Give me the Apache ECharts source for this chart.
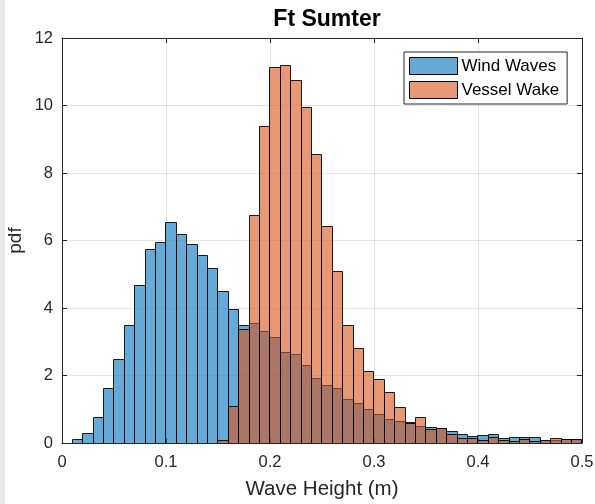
<!DOCTYPE html>
<html>
<head>
<meta charset="utf-8">
<script src="https://cdn.jsdelivr.net/npm/echarts@6/dist/echarts.min.js"></script>
<style>html,body{margin:0;padding:0;background:#fff;}#chart{width:595px;height:504px;}</style>
</head>
<body>
<div id="chart"></div>
<script>
// Histogram bins (shared edges)
const binStart = 0.0094;
const binWidth = 0.01;
// Wind Waves pdf per bin (k = 0..48)
const windWaves = [0.11, 0.29, 0.76, 1.62, 2.50, 3.49, 4.69, 5.74, 5.95, 6.54,
  6.18, 5.91, 5.57, 5.19, 4.49, 3.96, 3.51, 3.56, 3.31, 3.13,
  2.70, 2.63, 2.30, 1.92, 1.71, 1.62, 1.30, 1.20, 1.00, 0.87,
  0.71, 0.65, 0.62, 0.50, 0.46, 0.43, 0.37, 0.26, 0.22, 0.25,
  0.26, 0.16, 0.19, 0.18, 0.17, 0.10, 0.10, 0.11, 0.11];
// Vessel Wake pdf per bin (k = 0..48)
const vesselWake = [0, 0, 0, 0, 0, 0, 0, 0, 0, 0,
  0, 0, 0, 0, 0.09, 1.09, 3.39, 6.76, 9.39, 11.15,
  11.19, 10.76, 9.96, 8.55, 6.43, 5.09, 3.49, 2.82, 2.13, 1.89,
  1.50, 1.07, 0.58, 0.78, 0.41, 0.43, 0.26, 0.15, 0.15, 0.10,
  0.17, 0.08, 0.07, 0.11, 0.05, 0.08, 0.14, 0.11, 0.11];
const xTicks = [0, 0.1, 0.2, 0.3, 0.4, 0.5];
const yTicks = [0, 2, 4, 6, 8, 10, 12];
const seriesNames = ['Wind Waves', 'Vessel Wake'];
const fills = ['rgba(0,114,189,0.6)', 'rgba(217,83,25,0.6)'];
const swatches = ['#66aad7', '#e89875'];

function toBins(vals) {
  const out = [];
  vals.forEach((v, k) => {
    if (v > 0) out.push([binStart + k * binWidth, binStart + (k + 1) * binWidth, v]);
  });
  return out;
}

function makeRender(fill) {
  return function (params, api) {
    const p0 = api.coord([api.value(0), 0]);
    const p1 = api.coord([api.value(1), api.value(2)]);
    const x0 = Math.round(p0[0]) + 0.5, x1 = Math.round(p1[0]) + 0.5;
    const yb = Math.round(p0[1]) + 0.5, yt = Math.round(p1[1]) + 0.5;
    return {
      type: 'rect',
      shape: { x: x0, y: yt, width: x1 - x0, height: yb - yt },
      style: { fill: fill, stroke: 'rgba(0,0,0,0.88)', lineWidth: 1 }
    };
  };
}

const FONT = 'Liberation Sans, Arial, Helvetica, sans-serif';
const axisCol = '#262626';
const xMin = xTicks[0], xMax = xTicks[xTicks.length - 1];
const yMin = yTicks[0], yMax = yTicks[yTicks.length - 1];
const xInt = xTicks[1] - xTicks[0], yInt = yTicks[1] - yTicks[0];

const chart = echarts.init(document.getElementById('chart'), null, { renderer: 'canvas' });
const option = {
  animation: false,
  backgroundColor: '#fff',
  title: {
    text: 'Ft Sumter', left: 322, top: 3, textAlign: 'center',
    textStyle: { fontFamily: FONT, fontSize: 23, fontWeight: 'bold', color: '#000' }
  },
  graphic: [{ type: 'rect', left: 0, top: 0, shape: { width: 5, height: 504 }, style: { fill: '#e9e9e9' }, silent: true }],
  legend: {
    orient: 'vertical', left: 404, top: 52,
    padding: [5, 8, 5, 5], itemGap: 6, itemWidth: 48, itemHeight: 17,
    backgroundColor: '#fff', borderColor: '#262626', borderWidth: 1, borderRadius: 0,
    textStyle: { fontFamily: FONT, fontSize: 17, color: '#000', padding: [0, 0, 0, -1] },
    data: seriesNames.map((n, i) => ({ name: n, icon: 'rect',
      itemStyle: { color: swatches[i], borderColor: '#000', borderWidth: 1 } }))
  },
  grid: { left: 62, top: 38, right: 13, bottom: 61, containLabel: false, outerBoundsMode: 'none' },
  xAxis: [{
    type: 'value', min: xMin, max: xMax, interval: xInt, position: 'bottom',
    name: 'Wave Height (m)', nameLocation: 'middle', nameGap: 36,
    nameTextStyle: { fontFamily: FONT, fontSize: 20.5, color: axisCol },
    axisLine: { show: true, onZero: false, lineStyle: { color: axisCol, width: 1 } },
    axisTick: { show: true, inside: true, length: 5, lineStyle: { color: axisCol } },
    axisLabel: { fontFamily: FONT, fontSize: 16.5, color: axisCol, margin: 11,
      formatter: v => (v === 0 ? '0' : v.toFixed(1)) },
    splitLine: { show: true, lineStyle: { color: 'rgba(0,0,0,0.1)', width: 1 } }
  }, {
    type: 'value', min: xMin, max: xMax, interval: xInt, position: 'top',
    axisLine: { show: true, onZero: false, lineStyle: { color: axisCol, width: 1 } },
    axisTick: { show: true, inside: true, length: 5, lineStyle: { color: axisCol } },
    axisLabel: { show: false }, splitLine: { show: false }
  }],
  yAxis: [{
    type: 'value', min: yMin, max: yMax, interval: yInt, position: 'left',
    name: 'pdf', nameLocation: 'middle', nameGap: 37, nameRotate: 90, nameMoveOverlap: false,
    nameTextStyle: { fontFamily: FONT, fontSize: 19, color: axisCol },
    axisLine: { show: true, onZero: false, lineStyle: { color: axisCol, width: 1 } },
    axisTick: { show: true, inside: true, length: 5, lineStyle: { color: axisCol } },
    axisLabel: { fontFamily: FONT, fontSize: 16.5, color: axisCol, margin: 9 },
    splitLine: { show: true, lineStyle: { color: 'rgba(0,0,0,0.1)', width: 1 } }
  }, {
    type: 'value', min: yMin, max: yMax, interval: yInt, position: 'right',
    axisLine: { show: true, onZero: false, lineStyle: { color: axisCol, width: 1 } },
    axisTick: { show: true, inside: true, length: 5, lineStyle: { color: axisCol } },
    axisLabel: { show: false }, splitLine: { show: false }
  }],
  series: [
    { name: seriesNames[0], type: 'custom', xAxisIndex: 0, yAxisIndex: 0, clip: true,
      renderItem: makeRender(fills[0]), itemStyle: { color: swatches[0] },
      encode: { x: [0, 1], y: 2 }, data: toBins(windWaves), z: 2 },
    { name: seriesNames[1], type: 'custom', xAxisIndex: 0, yAxisIndex: 0, clip: true,
      renderItem: makeRender(fills[1]), itemStyle: { color: swatches[1] },
      encode: { x: [0, 1], y: 2 }, data: toBins(vesselWake), z: 3 }
  ]
};
chart.setOption(option);
</script>
</body>
</html>
